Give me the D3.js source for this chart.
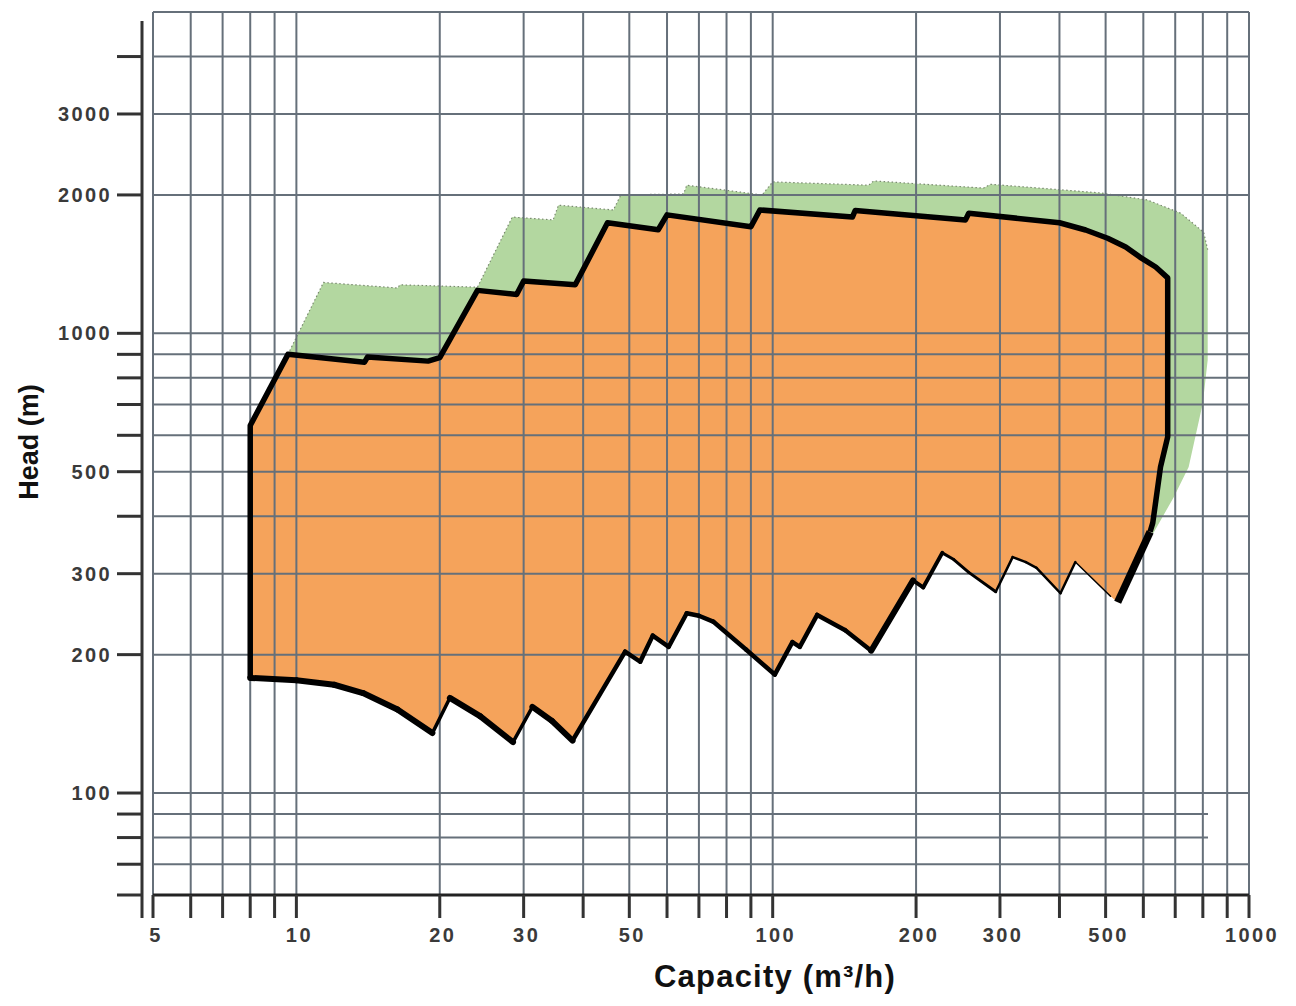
<!DOCTYPE html>
<meta charset="utf-8">
<style>
body { margin: 0; background: #fff; }
svg { display: block; }
.grid line { stroke: #66707a; stroke-width: 2; }
.tick-label { font-family: "Liberation Sans", Arial, sans-serif; font-weight: bold; font-size: 20px; fill: #3a3a3a; letter-spacing: 2.4px; }
.title { font-family: "Liberation Sans", Arial, sans-serif; font-weight: bold; fill: #111; }
</style>
<body>
<script src="https://cdn.jsdelivr.net/npm/d3@7"></script>
<script>

var width = 1296,
    height = 1006;

// axis ticks
var capacityTicks = [5, 10, 20, 30, 50, 100, 200, 300, 500, 1000];
var headTicks = [100, 200, 300, 500, 1000, 2000, 3000];
var capacityGrid = [5, 6, 7, 8, 9, 10, 20, 30, 40, 50, 60, 70, 80, 90, 100, 200, 300, 400, 500, 600, 700, 800, 900, 1000];
var headGrid = [60, 70, 80, 90, 100, 200, 300, 400, 500, 600, 700, 800, 900, 1000, 2000, 3000, 4000];

// orange field: [capacity m3/h, head m]
var leftEdge = [[8, 178], [8, 630]];
var orangeTop = [[9.6, 900], [13.9, 865], [14.1, 888], [18.9, 870], [20, 885], [24, 1240], [29, 1215],
  [30, 1300], [38.5, 1275], [45, 1740], [57.5, 1680], [60, 1810], [90, 1705], [94, 1855], [147, 1790],
  [149, 1850], [254, 1765], [258, 1825], [400, 1740], [454, 1678], [505, 1610], [551, 1541], [590, 1465],
  [637, 1394], [675, 1320], [675, 595], [652, 512], [628, 387], [620, 370]];
var rightEnd = [[620, 370], [530, 260]];
var lowerEdge = [[8, 178], [10, 176], [12, 172], [13.8, 165], [16.3, 152], [19.3, 135], [21, 161], [24.3, 147],
  [28.5, 129], [31.3, 154], [34.4, 143.5], [38, 130], [49, 203], [52.7, 193], [56, 220], [60.5, 208],
  [66, 246], [70, 243], [75, 236], [88, 205], [101, 181], [110, 213], [114, 208], [124, 244], [142, 226], [161, 204],
  [197, 290], [207, 280], [227, 333], [240, 322], [258, 302], [294, 274], [319, 326], [340, 318], [358, 309], [402, 272],
  [432, 318], [512, 268], [530, 260]];

// green field
var greenTop = [[9.6, 900], [11.4, 1290], [16.3, 1255], [16.5, 1275], [24, 1260], [28.4, 1790], [34.6, 1765],
  [35.5, 1900], [46.3, 1855], [48, 2000], [65, 2010], [66, 2100], [95, 2000], [100, 2135], [159, 2100],
  [163, 2145], [277, 2070], [287, 2110], [488, 2020], [612, 1950], [719, 1825], [803, 1660], [819, 1520]];
var greenRight = [[819, 1520], [819, 875], [800, 705], [747, 512], [695, 440], [630, 368], [620, 370]];

var x = d3.scaleLog().domain([5, 1000]).range([153, 1249]);
var y = d3.scaleLog().domain([60, 5000]).range([895, 12]);

var svg = d3.select("body").append("svg")
    .attr("width", width)
    .attr("height", height);

var line = d3.line()
    .x(function(d) { return x(d[0]); })
    .y(function(d) { return y(d[1]); });

// fills
var greenPoly = greenTop.concat(greenRight, orangeTop.slice().reverse());
svg.append("path")
    .attr("d", line(greenPoly) + "Z")
    .attr("fill", "#b3d7a0");

svg.append("path")
    .attr("d", line(greenTop))
    .attr("fill", "none")
    .attr("stroke", "#7a8a70")
    .attr("stroke-width", 1.2)
    .attr("stroke-dasharray", "1.5,2.5");

var orangePoly = leftEdge.concat(orangeTop, lowerEdge.slice().reverse());
svg.append("path")
    .attr("d", line(orangePoly) + "Z")
    .attr("fill", "#f5a35b");

// grid
var grid = svg.append("g").attr("class", "grid");
grid.selectAll("line.v")
    .data(capacityGrid)
  .enter().append("line")
    .attr("x1", function(d) { return x(d); })
    .attr("x2", function(d) { return x(d); })
    .attr("y1", y(5000))
    .attr("y2", y(60));
grid.selectAll("line.h")
    .data(headGrid.concat([5000]))
  .enter().append("line")
    .attr("x1", x(5))
    .attr("x2", function(d) { return (d == 80 || d == 90) ? 1208 : x(1000); })
    .attr("y1", function(d) { return y(d); })
    .attr("y2", function(d) { return y(d); });

// outlines
function lw(a, b) {
  // stroke width of lower edge pieces by capacity
  var m = (a[0] + b[0]) / 2;
  if (a[0] == b[0] || (b[1] > a[1] && m < 40)) return 3.5;
  if (m < 40) return 6;
  if (m < 160) return 4.5;
  if (m < 200) return 6;
  if (m < 230) return 4;
  if (m < 300) return 3;
  if (m < 420) return 2.5;
  return 1.5;
}

for (var i = 0; i < lowerEdge.length - 2; i++) {
  svg.append("path")
      .attr("d", line([lowerEdge[i], lowerEdge[i + 1]]))
      .attr("fill", "none")
      .attr("stroke", "#000")
      .attr("stroke-linecap", "round")
      .attr("stroke-width", lw(lowerEdge[i], lowerEdge[i + 1]));
}

svg.append("path")
    .attr("d", line(leftEdge.concat(orangeTop)))
    .attr("fill", "none")
    .attr("stroke", "#000")
    .attr("stroke-linejoin", "round")
    .attr("stroke-width", 5.5);

svg.append("path")
    .attr("d", line(rightEnd))
    .attr("fill", "none")
    .attr("stroke", "#000")
    .attr("stroke-width", 7.5);

// axis frame
svg.append("line")
    .attr("x1", x(5)).attr("x2", x(1000))
    .attr("y1", y(60)).attr("y2", y(60))
    .attr("stroke", "#222").attr("stroke-width", 3);

svg.append("line")
    .attr("x1", 142).attr("x2", 142)
    .attr("y1", 21).attr("y2", 918)
    .attr("stroke", "#333").attr("stroke-width", 3);

svg.selectAll("line.ytick")
    .data(headGrid)
  .enter().append("line")
    .attr("x1", 117).attr("x2", 142)
    .attr("y1", function(d) { return y(d); })
    .attr("y2", function(d) { return y(d); })
    .attr("stroke", "#333").attr("stroke-width", 3);

svg.selectAll("line.xtick")
    .data(capacityGrid)
  .enter().append("line")
    .attr("x1", function(d) { return x(d); })
    .attr("x2", function(d) { return x(d); })
    .attr("y1", y(60)).attr("y2", 918)
    .attr("stroke", "#333").attr("stroke-width", 3);

// tick labels
svg.selectAll("text.ylab")
    .data(headTicks)
  .enter().append("text")
    .attr("class", "tick-label")
    .attr("x", 112)
    .attr("y", function(d) { return y(d) + 7; })
    .attr("text-anchor", "end")
    .text(function(d) { return d; });

svg.selectAll("text.xlab")
    .data(capacityTicks)
  .enter().append("text")
    .attr("class", "tick-label")
    .attr("x", function(d) { return x(d) + 3; })
    .attr("y", 942)
    .attr("text-anchor", "middle")
    .text(function(d) { return d; });

// axis titles
svg.append("text")
    .attr("class", "title")
    .attr("transform", "translate(38,442) rotate(-90)")
    .attr("text-anchor", "middle")
    .style("font-size", "27px")
    .text("Head (m)");

svg.append("text")
    .attr("class", "title")
    .attr("x", 775)
    .attr("y", 987)
    .attr("text-anchor", "middle")
    .style("font-size", "31px")
    .style("letter-spacing", "1.2px")
    .text("Capacity (m³/h)");

</script>
</body>
